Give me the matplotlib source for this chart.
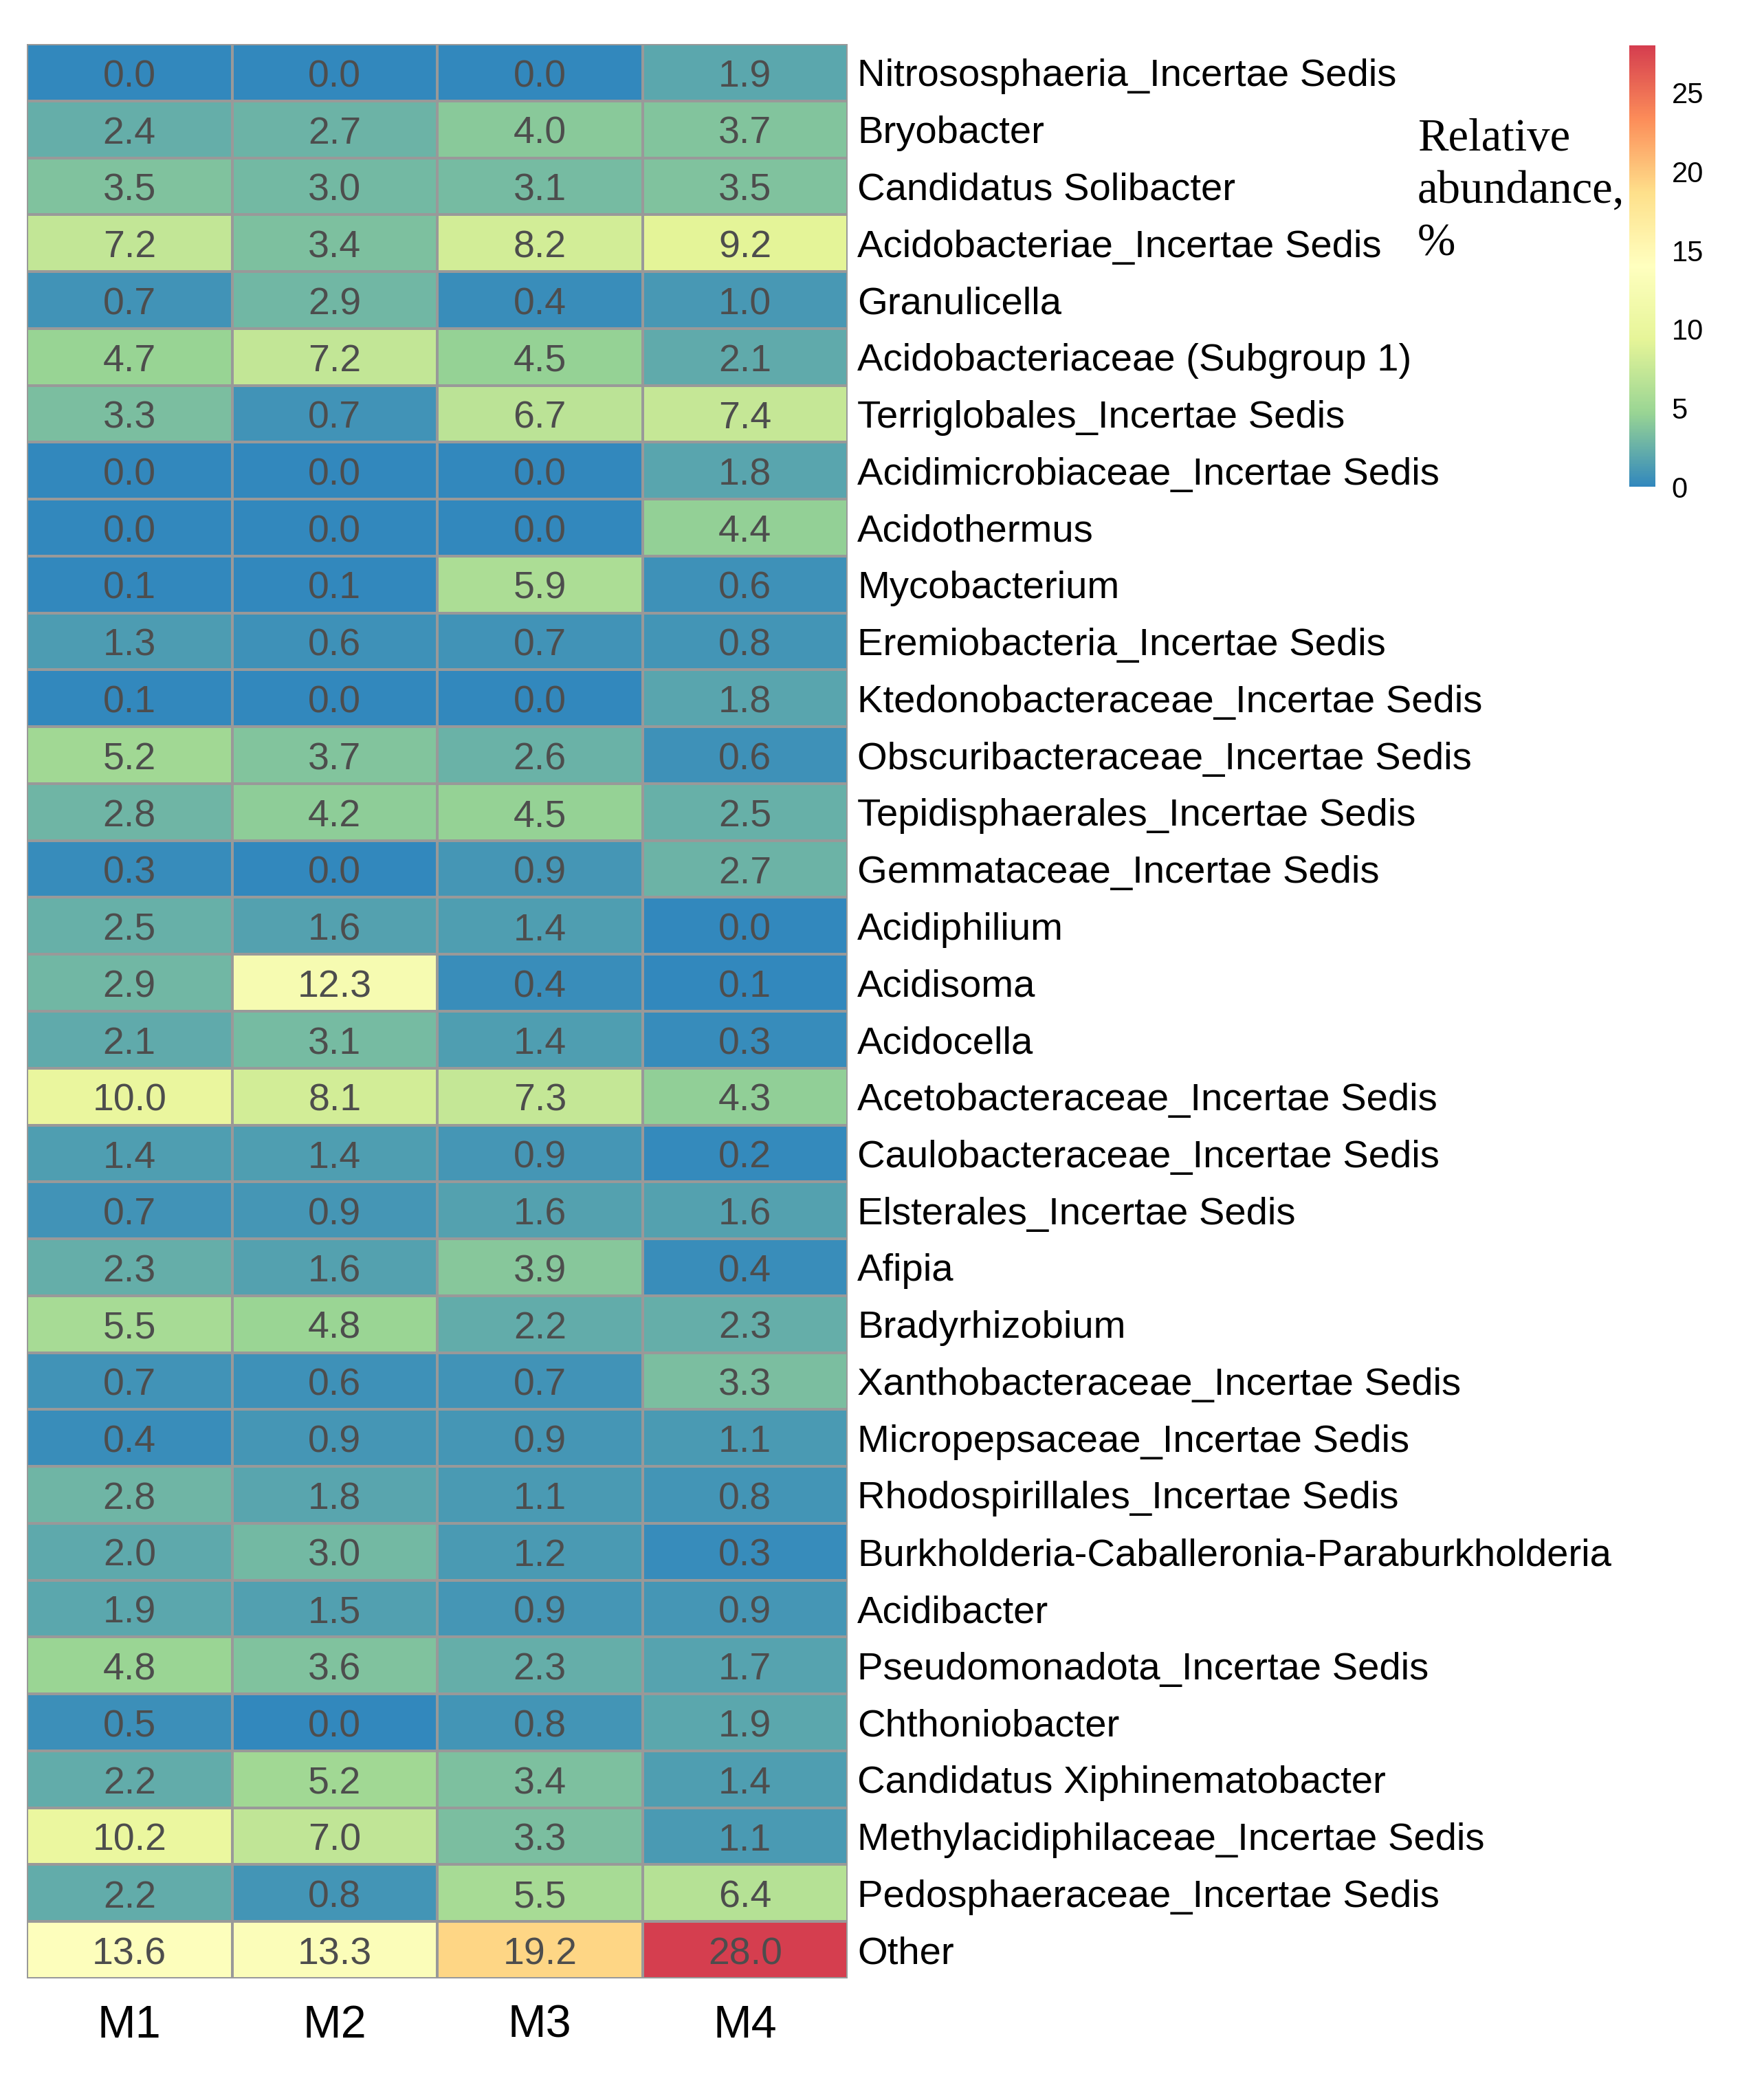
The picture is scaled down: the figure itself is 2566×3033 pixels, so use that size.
import numpy as np
import matplotlib
matplotlib.use("Agg")
import matplotlib.pyplot as plt
from matplotlib.colors import LinearSegmentedColormap, Normalize

# taxa, top to bottom
taxa = [
    "Nitrososphaeria_Incertae Sedis", "Bryobacter", "Candidatus Solibacter",
    "Acidobacteriae_Incertae Sedis", "Granulicella", "Acidobacteriaceae (Subgroup 1)",
    "Terriglobales_Incertae Sedis", "Acidimicrobiaceae_Incertae Sedis", "Acidothermus",
    "Mycobacterium", "Eremiobacteria_Incertae Sedis", "Ktedonobacteraceae_Incertae Sedis",
    "Obscuribacteraceae_Incertae Sedis", "Tepidisphaerales_Incertae Sedis",
    "Gemmataceae_Incertae Sedis", "Acidiphilium", "Acidisoma", "Acidocella",
    "Acetobacteraceae_Incertae Sedis", "Caulobacteraceae_Incertae Sedis",
    "Elsterales_Incertae Sedis", "Afipia", "Bradyrhizobium",
    "Xanthobacteraceae_Incertae Sedis", "Micropepsaceae_Incertae Sedis",
    "Rhodospirillales_Incertae Sedis", "Burkholderia-Caballeronia-Paraburkholderia",
    "Acidibacter", "Pseudomonadota_Incertae Sedis", "Chthoniobacter",
    "Candidatus Xiphinematobacter", "Methylacidiphilaceae_Incertae Sedis",
    "Pedosphaeraceae_Incertae Sedis", "Other",
]
samples = ["M1", "M2", "M3", "M4"]

M1 = [0.0, 2.4, 3.5, 7.2, 0.7, 4.7, 3.3, 0.0, 0.0, 0.1, 1.3, 0.1, 5.2, 2.8, 0.3, 2.5, 2.9,
      2.1, 10.0, 1.4, 0.7, 2.3, 5.5, 0.7, 0.4, 2.8, 2.0, 1.9, 4.8, 0.5, 2.2, 10.2, 2.2, 13.6]
M2 = [0.0, 2.7, 3.0, 3.4, 2.9, 7.2, 0.7, 0.0, 0.0, 0.1, 0.6, 0.0, 3.7, 4.2, 0.0, 1.6, 12.3,
      3.1, 8.1, 1.4, 0.9, 1.6, 4.8, 0.6, 0.9, 1.8, 3.0, 1.5, 3.6, 0.0, 5.2, 7.0, 0.8, 13.3]
M3 = [0.0, 4.0, 3.1, 8.2, 0.4, 4.5, 6.7, 0.0, 0.0, 5.9, 0.7, 0.0, 2.6, 4.5, 0.9, 1.4, 0.4,
      1.4, 7.3, 0.9, 1.6, 3.9, 2.2, 0.7, 0.9, 1.1, 1.2, 0.9, 2.3, 0.8, 3.4, 3.3, 5.5, 19.2]
M4 = [1.9, 3.7, 3.5, 9.2, 1.0, 2.1, 7.4, 1.8, 4.4, 0.6, 0.8, 1.8, 0.6, 2.5, 2.7, 0.0, 0.1,
      0.3, 4.3, 0.2, 1.6, 0.4, 2.3, 3.3, 1.1, 0.8, 0.3, 0.9, 1.7, 1.9, 1.4, 1.1, 6.4, 28.0]

data = np.array([M1, M2, M3, M4]).T

# reversed Spectral (7 classes)
cmap = LinearSegmentedColormap.from_list(
    "spec", ["#3288BD", "#99D594", "#E6F598", "#FFFFBF", "#FEE08B", "#FC8D59", "#D53E4F"])
norm = Normalize(vmin=0, vmax=data.max())

sans = "Liberation Sans"
W, H = 2566, 3033
fig = plt.figure(figsize=(W / 100, H / 100), dpi=100)

ax = fig.add_axes([39 / W, 1 - 2878 / H, (1233 - 39) / W, (2878 - 64) / H])
nrow, ncol = data.shape
mesh = ax.pcolormesh(np.arange(ncol + 1), np.arange(nrow + 1), data, cmap=cmap, norm=norm,
                     edgecolors="#999999", linewidth=1.6)
ax.set_xlim(0, ncol)
ax.set_ylim(nrow, 0)

# cell values (baseline placed so digits sit centred in the cell)
for i in range(nrow):
    for j in range(ncol):
        ax.text(j + 0.5, i + 0.75, f"{data[i, j]:.1f}", ha="center", va="baseline",
                fontsize=40, color="#4D4D4D", family=sans)

for s in ax.spines.values():
    s.set_visible(False)

ax.set_xticks(np.arange(ncol) + 0.5)
ax.set_xticklabels(samples, fontsize=48, family=sans)
ax.tick_params(axis="x", length=0, pad=27)

ax.yaxis.tick_right()
ax.set_yticks(np.arange(nrow) + 0.5)
ax.set_yticklabels(taxa, fontsize=40.5, family=sans)
ax.tick_params(axis="y", length=0, pad=10)

# colour bar
cax = fig.add_axes([2370 / W, 1 - 708 / H, 38 / W, 642 / H])
cb = fig.colorbar(mesh, cax=cax, ticks=[0, 5, 10, 15, 20, 25])
cb.outline.set_visible(False)
cax.tick_params(length=0, pad=17, labelsize=30)
for t in cax.get_yticklabels():
    t.set_family(sans)

fig.text(2062 / W, 1 - 172 / H, "Relative\nabundance,\n%", ha="left", va="top",
         fontsize=48, family="Liberation Serif", linespacing=1.32)

fig.savefig("out.png", dpi=100, facecolor="white")
